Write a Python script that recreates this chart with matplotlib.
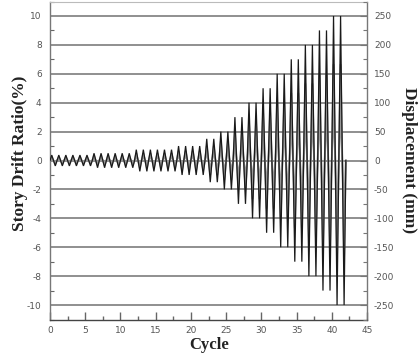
import matplotlib
matplotlib.use("Agg")
import matplotlib.pyplot as plt
from matplotlib.ticker import MultipleLocator
import numpy as np

plt.rcParams['axes.unicode_minus'] = False

# Loading protocol: number of cycles per step and drift amplitude (%) of the three traces
cycles_per_level = [6, 6, 6, 4, 2, 2, 2, 2, 2, 2, 2, 2, 2, 2]
drift_main = [0.375, 0.5, 0.75, 1.0, 1.5, 2.0, 3.0, 4.0, 5.0, 6.0, 7.0, 8.0, 9.0, 10.0]
drift_mid = [0.25, 0.33, 0.5, 0.67, 1.0, 1.33, 2.0, 2.67, 3.33, 4.0, 4.67, 5.33, 6.0, 6.67]
drift_low = [0.125, 0.17, 0.25, 0.33, 0.5, 0.67, 1.0, 1.33, 1.67, 2.0, 2.33, 2.67, 3.0, 3.33]
mm_per_percent = 25.0  # 10 % -> 250 mm

x_ticks = [0, 5, 10, 15, 20, 25, 30, 35, 40, 45]
y_ticks = [-10, -8, -6, -4, -2, 0, 2, 4, 6, 8, 10]
mm_ticks = [-250, -200, -150, -100, -50, 0, 50, 100, 150, 200, 250]


def waveform(levels):
    amps = np.repeat(levels, cycles_per_level)
    xs, ys = [0.0], [0.0]
    for i, a in enumerate(amps):
        xs += [i + 0.25, i + 0.75, i + 1.0]
        ys += [a, -a, 0.0]
    return xs, ys


W, H = 419, 356
fig = plt.figure(figsize=(W / 100, H / 100), dpi=100)
ax = fig.add_axes([50 / W, 36.5 / H, 317 / W, 318 / H])

for yv in y_ticks:
    ax.axhline(yv, color='#8f8f8f', lw=1.4, zorder=1)

for levels, col, lw, z in [(drift_low, '#a0a0a0', 1.3, 2),
                           (drift_mid, '#929292', 1.3, 3),
                           (drift_main, '#1a1a1a', 0.9, 4)]:
    xs, ys = waveform(levels)
    ax.plot(xs, ys, color=col, lw=lw, zorder=z, solid_joinstyle='miter')

ax.set_xlim(0, 45)
ax.set_ylim(-11, 11)
ax.set_xticks(x_ticks)
ax.xaxis.set_minor_locator(MultipleLocator(2.5))
ax.set_yticks(y_ticks)
ax.yaxis.set_minor_locator(MultipleLocator(1))

tick_col = '#555555'
ax.tick_params(axis='both', which='major', direction='in', labelsize=6.5,
               labelcolor=tick_col, color='#666666')
ax.tick_params(axis='x', which='major', length=6, width=1, pad=5)
ax.tick_params(axis='x', which='minor', direction='in', length=3, width=1, color='#666666')
ax.tick_params(axis='y', which='major', length=0, pad=6)
ax.tick_params(axis='y', which='minor', direction='in', length=3, width=0.8, color='#666666')

for side in ['left', 'right', 'bottom']:
    ax.spines[side].set_color('#777777')
    ax.spines[side].set_linewidth(1.0)
ax.spines['bottom'].set_color('#444444')
ax.spines['top'].set_color('#bbbbbb')

ax2 = ax.twinx()
ax2.set_ylim(-11 * mm_per_percent, 11 * mm_per_percent)
ax2.set_yticks(mm_ticks)
ax2.yaxis.set_minor_locator(MultipleLocator(25))
ax2.tick_params(axis='y', which='major', direction='in', length=5, width=0.8,
                labelsize=6.5, labelcolor=tick_col, color='#777777', pad=5)
ax2.tick_params(axis='y', which='minor', direction='in', length=3, width=0.8, color='#777777')
for s in ax2.spines.values():
    s.set_visible(False)

serif = ['Liberation Serif', 'DejaVu Serif']
fig.text(20 / W, 1 - 153 / H, 'Story Drift Ratio(%)', rotation=90, ha='center', va='center',
         fontsize=12.5, fontweight='bold', family=serif, color='#222222')
fig.text(409 / W, 1 - 160 / H, 'Displacement (mm)', rotation=-90, ha='center', va='center',
         fontsize=12.5, fontweight='bold', family=serif, color='#222222')
fig.text(209 / W, 1 - 345 / H, 'Cycle', ha='center', va='center',
         fontsize=12, fontweight='bold', family=serif, color='#222222')

fig.savefig('out.png', dpi=100)
